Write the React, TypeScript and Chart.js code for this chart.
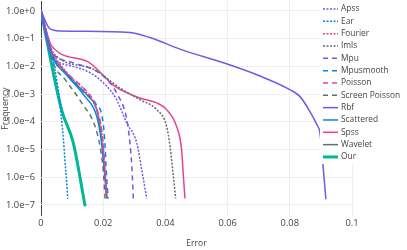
import React, { useEffect, useRef } from "react";
import { Chart, registerables } from "chart.js";

Chart.register(...registerables);

const seriesNames = ["Apss", "Ear", "Fourier", "Imls", "Mpu", "Mpusmooth", "Poisson", "Screen Poisson", "Rbf", "Scattered", "Spss", "Wavelet", "Our"];

const apssX = [0, 0.0029, 0.0104, 0.0158, 0.021, 0.0243, 0.0276, 0.0308, 0.0324, 0.034];
const apssY = [1, 3.2e-2, 1e-2, 5.9e-3, 2e-3, 6.3e-4, 8.9e-5, 1.7e-5, 1.8e-6, 1.7e-7];

const earX = [0, 0.0061, 0.0066, 0.0072, 0.0077, 0.0082, 0.0086];
const earY = [1, 5e-4, 1.2e-4, 2.5e-5, 4e-6, 8e-7, 1.66e-7];

const fourierX = [0, 0.0035, 0.009, 0.014, 0.018, 0.0198, 0.0207, 0.0212];
const fourierY = [1, 4e-2, 5e-3, 1.4e-3, 2.5e-4, 2.5e-5, 1.26e-6, 1.7e-7];

const imlsX = [0, 0.0029, 0.0158, 0.0254, 0.0318, 0.0372, 0.0404, 0.0415, 0.0425, 0.0433];
const imlsY = [1, 4.2e-2, 8.9e-3, 1.66e-3, 6.3e-4, 2.75e-4, 6.8e-5, 1.26e-5, 1.26e-6, 1.7e-7];

const mpuX = [0, 0.003, 0.01, 0.02, 0.0245, 0.0276, 0.0286, 0.0292, 0.0297];
const mpuY = [1, 4e-2, 1.4e-2, 4.5e-3, 1e-3, 1.2e-4, 1.7e-5, 2.5e-6, 1.7e-7];

const mpusmoothX = [0, 0.004, 0.009, 0.0141, 0.0174, 0.02, 0.0206, 0.0211, 0.0216];
const mpusmoothY = [1, 2e-2, 4.5e-3, 1.1e-3, 4.8e-4, 8.9e-5, 1.26e-5, 1e-6, 1.7e-7];

const poissonX = [0, 0.004, 0.0093, 0.0131, 0.017, 0.0195, 0.0205, 0.0211];
const poissonY = [1, 2.5e-2, 4.5e-3, 1.9e-3, 5e-4, 5e-5, 2.5e-6, 1.7e-7];

const screenPoissonX = [0, 0.004, 0.0077, 0.0131, 0.0174, 0.019, 0.02, 0.0206];
const screenPoissonY = [1, 1.26e-2, 3.4e-3, 4.8e-4, 6.8e-5, 1.26e-5, 1.8e-6, 1.7e-7];

const rbfX = [0, 0.0029, 0.0061, 0.0286, 0.035, 0.0447, 0.0608, 0.07, 0.08, 0.0833, 0.0865, 0.0887, 0.0897, 0.0907, 0.0916];
const rbfY = [1, 2.24e-1, 1.9e-1, 1.66e-1, 1.1e-1, 4.2e-2, 1.12e-2, 4.7e-3, 1.45e-3, 8.1e-4, 2.3e-4, 7.9e-5, 4e-5, 2.5e-6, 1.6e-7];

const scatteredX = [0, 0.0029, 0.0045, 0.0077, 0.0141, 0.0179, 0.0195, 0.0206, 0.0212];
const scatteredY = [1, 3.2e-2, 1.4e-2, 5.6e-3, 8.3e-4, 1.6e-4, 1.7e-5, 1e-6, 1.7e-7];

const spssX = [0, 0.0034, 0.0147, 0.0238, 0.0318, 0.0372, 0.0404, 0.0436, 0.0452, 0.0458, 0.0463];
const spssY = [1, 5.5e-2, 1.55e-2, 1.9e-3, 7.2e-4, 4.8e-4, 2.75e-4, 6.8e-5, 1e-5, 1e-6, 1.7e-7];

const waveletX = [0, 0.004, 0.0061, 0.0109, 0.0152, 0.0179, 0.0195, 0.0206, 0.0211];
const waveletY = [1, 2.1e-2, 1.07e-2, 2.5e-3, 8.3e-4, 2.75e-4, 2.2e-5, 1e-6, 1.7e-7];

const ourX = [0, 0.0066, 0.0104, 0.0142];
const ourY = [1, 2.75e-4, 1.7e-5, 8.9e-8];

const xTickValues = [0, 0.02, 0.04, 0.06, 0.08, 0.1];
const yTickValues = [1, 1e-1, 1e-2, 1e-3, 1e-4, 1e-5, 1e-6, 1e-7];

const PURPLE = "#6c5ce7";
const BLUE = "#0984e3";
const PINK = "#e84393";
const GRAY = "#636e72";
const GREEN = "#00b894";
const DOT = [2, 1.5];
const DASH = [5, 4];

const seriesData = [
  [apssX, apssY, PURPLE, DOT, 1.5],
  [earX, earY, BLUE, DOT, 1.5],
  [fourierX, fourierY, PINK, DOT, 1.5],
  [imlsX, imlsY, GRAY, DOT, 1.5],
  [mpuX, mpuY, PURPLE, DASH, 1.5],
  [mpusmoothX, mpusmoothY, BLUE, DASH, 1.5],
  [poissonX, poissonY, PINK, DASH, 1.5],
  [screenPoissonX, screenPoissonY, GRAY, DASH, 1.5],
  [rbfX, rbfY, PURPLE, [], 1.5],
  [scatteredX, scatteredY, BLUE, [], 1.5],
  [spssX, spssY, PINK, [], 1.5],
  [waveletX, waveletY, GRAY, [], 1.5],
  [ourX, ourY, GREEN, [], 3],
] as const;

const FONT = "'Open Sans', 'DejaVu Sans', sans-serif";

const legendPlugin = {
  id: "customLegend",
  afterDraw(chart: any) {
    const ctx = chart.ctx;
    ctx.save();
    ctx.fillStyle = "#ffffff";
    ctx.fillRect(320, 0, 87, 164);
    chart.data.datasets.forEach((ds: any, i: number) => {
      const y = 9 + i * 12.33;
      ctx.beginPath();
      ctx.setLineDash(ds.borderDash || []);
      ctx.strokeStyle = ds.borderColor;
      ctx.lineWidth = ds.borderWidth;
      ctx.moveTo(323, y);
      ctx.lineTo(338, y);
      ctx.stroke();
      ctx.setLineDash([]);
      ctx.fillStyle = "#444";
      ctx.font = `8.4px ${FONT}`;
      ctx.textAlign = "left";
      ctx.textBaseline = "middle";
      ctx.fillText(ds.label, 341, y);
    });
    ctx.restore();
  },
};

export default function App() {
  const ref = useRef<HTMLCanvasElement | null>(null);
  useEffect(() => {
    if (!ref.current) return;
    const datasets = seriesData.map((s, i) => {
      const [xs, ys, color, dash, width] = s as any;
      return {
        label: seriesNames[i],
        data: xs.map((x: number, j: number) => ({ x, y: ys[j] })),
        borderColor: color,
        backgroundColor: color,
        borderDash: dash,
        borderWidth: width,
        pointRadius: 0,
        fill: false,
        cubicInterpolationMode: "monotone",
      };
    });
    const chart = new Chart(ref.current, {
      type: "line",
      data: { datasets } as any,
      plugins: [legendPlugin],
      options: {
        animation: false,
        responsive: false,
        devicePixelRatio: 1,
        layout: { padding: { left: 0, right: 55, top: 1, bottom: 0 } },
        plugins: { legend: { display: false }, tooltip: { enabled: false } },
        scales: {
          x: {
            type: "linear",
            min: 0,
            max: 0.1,
            afterBuildTicks: (scale: any) => {
              scale.ticks = xTickValues.map((v) => ({ value: v }));
            },
            afterFit: (scale: any) => {
              scale.height = 34;
              scale.paddingLeft = 0;
              scale.paddingRight = 0;
            },
            ticks: {
              color: "#444",
              font: { family: FONT, size: 9.3 },
              padding: 2,
              maxRotation: 0,
              callback: (v: any) => String(v),
            },
            grid: {
              drawTicks: false,
              color: (c: any) => (c.tick && c.tick.value === 0 ? "#444" : "#eeeeee"),
              lineWidth: 1,
            },
            border: { display: false },
            title: {
              display: true,
              text: "Error",
              color: "#444",
              font: { family: FONT, size: 8.5 },
              padding: { top: 0, bottom: 1 },
            },
          },
          y: {
            type: "logarithmic",
            min: 3.98e-8,
            max: 2.29,
            afterBuildTicks: (scale: any) => {
              scale.ticks = yTickValues.map((v) => ({ value: v }));
            },
            afterFit: (scale: any) => {
              scale.width = 41;
              scale.paddingTop = 0;
              scale.paddingBottom = 0;
            },
            ticks: {
              color: "#444",
              font: { family: FONT, size: 9.3 },
              padding: 6,
              callback: (v: any) => {
                const e = Math.round(Math.log10(v));
                return "1.0e" + (e >= 0 ? "+" + e : "\u2212" + -e);
              },
            },
            grid: { drawTicks: false, color: "#eeeeee", lineWidth: 1 },
            border: { display: false },
            title: {
              display: true,
              text: "Frequency",
              color: "#444",
              font: { family: FONT, size: 8.7 },
              padding: { top: 0, bottom: 0 },
            },
          },
        },
      } as any,
    });
    return () => chart.destroy();
  }, []);
  return (
    <div style={{ position: "absolute", left: 0, top: 0, width: 407, height: 250, background: "#fff" }}>
      <canvas ref={ref} width={407} height={250} style={{ display: "block" }} />
    </div>
  );
}
